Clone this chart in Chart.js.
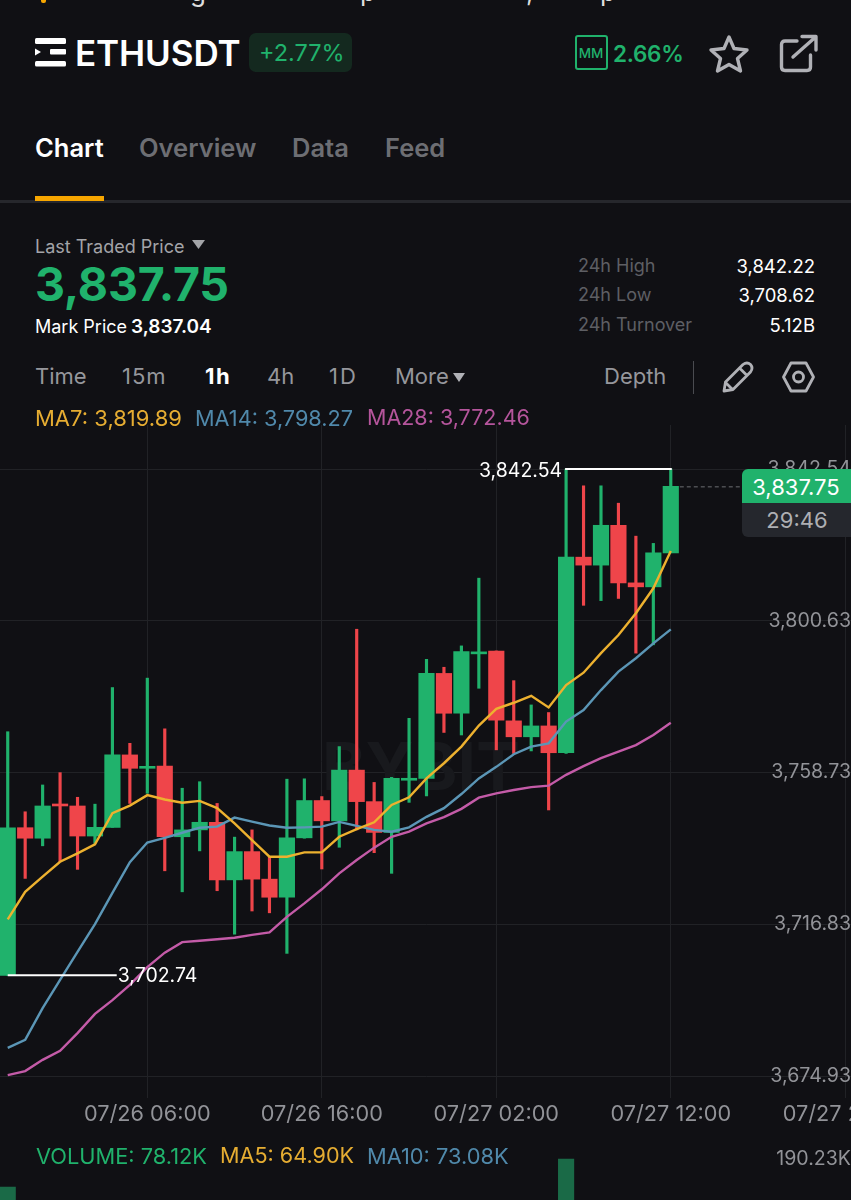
<!DOCTYPE html>
<html><head><meta charset="utf-8">
<script src="https://cdn.jsdelivr.net/npm/chart.js@4/dist/chart.umd.min.js"></script>
<style>
html,body{margin:0;padding:0;background:#101014;overflow:hidden;width:851px;height:1200px}
body{position:relative;font-family:Inter,"Noto Sans",sans-serif;color:#fff}
.t{position:absolute;white-space:nowrap;transform:translateY(-50%);line-height:1.2}
.r{transform:translate(-100%,-50%)}
.c{transform:translate(-50%,-50%)}
svg{position:absolute;overflow:visible}
canvas{position:absolute;display:block}
.bx{position:absolute}
</style></head><body>
<canvas id="price" width="855" height="705" style="left:-1px;top:425px;width:855px;height:705px"></canvas>
<canvas id="vol" width="855" height="50" style="left:-1px;top:1150px;width:855px;height:50px"></canvas>

<!-- cut-off line at the top of the screenshot -->
<div class="bx" style="left:41px;top:0;width:5px;height:3px;background:#f7a600;border-radius:0 0 2px 2px"></div>
<div class="t" style="left:190px;top:-8px;font-size:26px;color:#ddd">g</div>
<div class="t" style="left:360px;top:-8px;font-size:26px;color:#ddd">p</div>
<div class="t" style="left:526px;top:-8px;font-size:26px;color:#ddd">,</div>
<div class="t" style="left:600px;top:-8px;font-size:26px;color:#ddd">p</div>

<!-- header -->
<svg style="left:35px;top:38px" width="32" height="29" viewBox="0 0 32 29">
<rect x="0" y="0" width="31" height="6" rx="1.5" fill="#fff"/>
<path d="M0 10.5 L6 14 L0 17.5Z" fill="#fff"/>
<rect x="15" y="11" width="16" height="5.5" rx="1" fill="#fff"/>
<rect x="0" y="23" width="31" height="5.5" rx="1.5" fill="#fff"/>
</svg>
<div class="t" style="left:75px;top:53px;font-size:35px;font-weight:600;letter-spacing:-.1px">ETHUSDT</div>
<div class="bx" style="left:249px;top:33px;width:103px;height:39px;background:#14291f;border-radius:7px"></div>
<div class="t" style="left:259px;top:53px;font-size:23.5px;color:#20b26c">+2.77%</div>
<div class="bx" style="left:575px;top:35px;width:29px;height:31px;border:2px solid #20b26c;border-radius:3px"></div>
<div class="t c" style="left:591px;top:53px;font-size:13.5px;color:#20b26c;font-weight:500">MM</div>
<div class="t" style="left:613px;top:53px;font-size:22.5px;font-weight:600;color:#20b26c;letter-spacing:-.3px">2.66%</div>
<svg style="left:709px;top:34px" width="40" height="40" viewBox="0 0 40 40"><path d="M20 3 L25 14.5 L38 16 L28.5 24.5 L31.5 37 L20 30.5 L8.5 37 L11.5 24.5 L2 16 L15 14.5Z" fill="none" stroke="#b0b1b6" stroke-width="3.4" stroke-linejoin="round"/></svg>
<svg style="left:780px;top:35px" width="38" height="38" viewBox="0 0 38 38"><path d="M17 6 H5 Q1.5 6 1.5 9.5 V32 Q1.5 35.5 5 35.5 H27 Q30.5 35.5 30.5 32 V20" fill="none" stroke="#b0b1b6" stroke-width="3.4" stroke-linecap="round"/><path d="M13 22 L35 2.5 M22 1.5 H36 V15" fill="none" stroke="#b0b1b6" stroke-width="3.4" stroke-linecap="round" stroke-linejoin="round"/></svg>

<!-- tabs -->
<div class="t" style="left:35px;top:148px;font-size:25.5px;font-weight:600;color:#fff">Chart</div>
<div class="t" style="left:139px;top:148px;font-size:25.5px;font-weight:600;color:#6d6e73">Overview</div>
<div class="t" style="left:292px;top:148px;font-size:25.5px;font-weight:600;color:#6d6e73">Data</div>
<div class="t" style="left:385px;top:148px;font-size:25.5px;font-weight:600;color:#6d6e73">Feed</div>
<div class="bx" style="left:0;top:200px;width:851px;height:3px;background:#26272c"></div>
<div class="bx" style="left:35px;top:196px;width:69px;height:5px;background:#f7a600"></div>

<!-- price block -->
<div class="t" style="left:35px;top:247px;font-size:18px;color:#a3a4a8">Last Traded Price</div>
<svg style="left:192px;top:240px" width="13" height="9"><path d="M0 0H13L6.5 9Z" fill="#a3a4a8"/></svg>
<div class="t" style="left:35px;top:285px;font-size:46.5px;font-weight:700;color:#20b26c;letter-spacing:-.2px">3,837.75</div>
<div class="t" style="left:35px;top:327px;font-size:18px;color:#fff">Mark Price</div>
<div class="t" style="left:131px;top:327px;font-size:19px;font-weight:600;color:#fff">3,837.04</div>
<div class="t" style="left:578px;top:266px;font-size:18px;color:#5e5f64">24h High</div>
<div class="t" style="left:578px;top:295px;font-size:18px;color:#5e5f64">24h Low</div>
<div class="t" style="left:578px;top:325px;font-size:18px;color:#5e5f64">24h Turnover</div>
<div class="t r" style="left:815px;top:266px;font-size:18.5px;color:#fff">3,842.22</div>
<div class="t r" style="left:815px;top:295px;font-size:18.5px;color:#fff">3,708.62</div>
<div class="t r" style="left:815px;top:325px;font-size:18.5px;color:#fff">5.12B</div>

<!-- toolbar -->
<div class="t" style="left:35px;top:376px;font-size:22px;color:#96979c">Time</div>
<div class="t" style="left:122px;top:376px;font-size:22px;color:#96979c;letter-spacing:1px">15m</div>
<div class="t" style="left:205px;top:376px;font-size:22px;font-weight:700;color:#fff;letter-spacing:1.5px">1h</div>
<div class="t" style="left:267px;top:376px;font-size:22px;color:#96979c">4h</div>
<div class="t" style="left:329px;top:376px;font-size:22px;color:#96979c;letter-spacing:2px">1D</div>
<div class="t" style="left:395px;top:376px;font-size:22px;color:#96979c">More</div>
<svg style="left:453px;top:373px" width="12" height="9"><path d="M0 0H12L6 9Z" fill="#b0b1b6"/></svg>
<div class="t" style="left:604px;top:376px;font-size:22px;color:#96979c">Depth</div>
<div class="bx" style="left:693px;top:361px;width:1px;height:33px;background:#4a4b50"></div>
<svg style="left:722px;top:361px" width="32" height="32" viewBox="0 0 32 32"><path d="M2 30 L3.5 21 L21 3.5 Q25 0.5 28.5 3.5 Q31.5 7 28.5 11 L11 28.5Z M17.5 7 L25 14.5 M4 22 L10.5 28.5" fill="none" stroke="#b0b1b6" stroke-width="2.8" stroke-linejoin="round"/></svg>
<svg style="left:782px;top:361px" width="33" height="32" viewBox="0 0 33 32"><path d="M9 2 H24 L31.5 16 L24 30 H9 L1.5 16Z" fill="none" stroke="#b0b1b6" stroke-width="2.8" stroke-linejoin="round"/><circle cx="16.5" cy="16" r="5" fill="none" stroke="#b0b1b6" stroke-width="2.8"/></svg>

<!-- MA legend -->
<div class="t" style="left:35px;top:418px;font-size:22px;color:#e6ad32">MA7: 3,819.89</div>
<div class="t" style="left:195px;top:418px;font-size:21.7px;color:#5089ab">MA14: 3,798.27</div>
<div class="t" style="left:367px;top:418px;font-size:21.5px;color:#b5559c">MA28: 3,772.46</div>

<!-- last price tags -->
<div class="bx" style="left:742px;top:469px;width:110px;height:34px;background:#20b26c;border-radius:6px 0 0 0"></div>
<div class="bx" style="left:742px;top:503px;width:110px;height:34px;background:#25272d;border-radius:0 0 0 6px"></div>
<div class="t c" style="left:796px;top:487px;font-size:22px;color:#fff">3,837.75</div>
<div class="t c" style="left:797px;top:520px;font-size:22px;color:#aeafb3">29:46</div>

<!-- volume legend -->
<div class="t" style="left:36px;top:1156px;font-size:21.8px;color:#20b26c">VOLUME: 78.12K</div>
<div class="t" style="left:220px;top:1156px;font-size:21.6px;color:#e6ad32">MA5: 64.90K</div>
<div class="t" style="left:367px;top:1156px;font-size:21.8px;color:#5089ab">MA10: 73.08K</div>

<script>
const categories = [
 '07/25 22:00','07/25 23:00','07/26 00:00','07/26 01:00','07/26 02:00','07/26 03:00','07/26 04:00','07/26 05:00',
 '07/26 06:00','07/26 07:00','07/26 08:00','07/26 09:00','07/26 10:00','07/26 11:00','07/26 12:00','07/26 13:00',
 '07/26 14:00','07/26 15:00','07/26 16:00','07/26 17:00','07/26 18:00','07/26 19:00','07/26 20:00','07/26 21:00',
 '07/26 22:00','07/26 23:00','07/27 00:00','07/27 01:00','07/27 02:00','07/27 03:00','07/27 04:00','07/27 05:00',
 '07/27 06:00','07/27 07:00','07/27 08:00','07/27 09:00','07/27 10:00','07/27 11:00','07/27 12:00','07/27 13:00',
 '07/27 14:00','07/27 15:00','07/27 16:00','07/27 17:00','07/27 18:00','07/27 19:00','07/27 20:00','07/27 21:00','07/27 22:00'];
const shownTimes = ['07/26 06:00','07/26 16:00','07/27 02:00','07/27 12:00','07/27 22:00'];
const opens = [3702.74,3743.5,3740.6,3750.0,3749.5,3741.2,3743.6,3763.6,3759.9,3760.5,3741.0,3742.9,3745.0,3729.1,3736.9,3729.3,3724.3,3740.7,3751.0,3745.4,3759.4,3750.7,3742.2,3756.6,3757.1,3786.1,3775.1,3791.5,3792.3,3773.0,3768.6,3771.6,3764.2,3818.2,3816.0,3827.0,3811.1,3810.0,3819.4];
const closes = [3743.5,3740.6,3749.5,3749.5,3741.2,3743.6,3763.6,3759.9,3760.3,3741.0,3742.9,3745.0,3729.1,3736.9,3729.3,3724.3,3740.7,3751.0,3745.4,3759.4,3750.7,3742.2,3757.1,3757.0,3786.1,3775.1,3792.1,3791.9,3773.2,3768.6,3771.6,3764.2,3818.2,3816.0,3827.0,3811.1,3810.0,3819.4,3837.75];
const highs = [3770.0,3747.9,3755.3,3758.7,3751.9,3750.0,3782.2,3766.8,3784.8,3770.8,3754.4,3756.2,3750.2,3740.9,3742.9,3735.5,3756.9,3757.0,3752.1,3765.9,3798.3,3756.0,3757.4,3773.7,3790.0,3787.8,3793.7,3812.4,3792.3,3784.1,3777.4,3775.3,3842.54,3837.9,3837.9,3833.1,3824.0,3822.0,3842.54];
const lows = [3702.74,3729.5,3738.5,3734.1,3732.0,3739.2,3743.6,3750.2,3753.0,3731.6,3725.8,3737.1,3726.1,3714.1,3720.5,3720.0,3708.8,3740.6,3732.1,3738.1,3742.9,3736.6,3730.9,3750.5,3752.3,3769.8,3769.1,3782.0,3765.0,3764.0,3764.7,3748.4,3764.0,3804.9,3806.2,3806.8,3791.7,3794.0,3819.4];
const ma7 = [3718.2,3725.8,3730.0,3734.1,3736.4,3738.9,3747.5,3749.6,3752.5,3751.3,3750.4,3750.9,3748.9,3744.7,3740.1,3735.5,3735.5,3736.7,3736.7,3741.0,3743.1,3745.0,3749.8,3751.9,3757.1,3761.3,3765.9,3771.7,3776.3,3778.0,3779.9,3776.7,3782.9,3786.3,3791.7,3796.7,3802.7,3809.6,3819.89];
const ma14 = [3682.7,3684.9,3693.7,3701.5,3709.2,3716.9,3725.5,3734.0,3739.4,3740.7,3742.1,3743.5,3743.8,3746.3,3745.2,3744.1,3743.5,3743.6,3743.8,3745.1,3744.0,3742.9,3742.4,3743.6,3746.5,3748.9,3752.8,3757.1,3760.3,3763.8,3765.9,3766.8,3772.8,3776.0,3781.5,3786.6,3790.3,3794.4,3798.27];
const ma28 = [3675.2,3676.3,3679.4,3681.9,3686.8,3692.1,3695.9,3700.1,3705.0,3709.0,3711.9,3712.3,3712.7,3713.1,3713.9,3714.6,3718.9,3722.6,3726.5,3730.9,3734.6,3738.0,3741.0,3742.4,3744.7,3746.4,3748.7,3751.8,3753.0,3753.9,3754.7,3755.1,3758.1,3760.5,3762.7,3764.5,3766.3,3769.1,3772.46];
const priceTicks = [3842.54,3800.63,3758.73,3716.83,3674.93];
const volumeK = [137,null,null,null,null,null,null,null,null,null,null,null,null,null,null,null,null,null,null,null,null,null,null,null,null,null,null,null,null,null,null,null,190.23,null,null,null,null,null,null];
const volumeTicks = [190.23];
const highMark = {index:32, value:3842.54, text:'3,842.54'};
const lowMark = {index:0, value:3702.74, text:'3,702.74'};
const lastPrice = 3837.75;

const GREEN='#20b26c', RED='#ef454a', GRID='#212226', FONT='Inter, "Noto Sans", sans-serif';
const candleColors = opens.map((o,i)=> closes[i]>=o ? GREEN : RED);
const zip=(a,b)=>a.map((v,i)=>[v,b[i]]);
const noPad = s => { s.paddingLeft=0; s.paddingRight=0; s.paddingTop=0; s.paddingBottom=0; };

const marks = {
  id:'marks',
  beforeDatasetsDraw(c){
    const {ctx}=c;
    ctx.save();
    ctx.font='700 66px '+FONT; ctx.fillStyle='#18191d'; ctx.textAlign='center'; ctx.textBaseline='middle';
    ctx.fillText('BYBIT',422,770-425);
    ctx.restore();
  },
  afterDatasetsDraw(c){
    const {ctx,scales:{x,y}}=c;
    ctx.save();
    ctx.strokeStyle='#fff'; ctx.lineWidth=2; ctx.fillStyle='#fff';
    ctx.font='19.5px '+FONT; ctx.textBaseline='middle';
    const hy=y.getPixelForValue(highMark.value), hx=x.getPixelForValue(highMark.index), ex=x.getPixelForValue(opens.length-1);
    ctx.beginPath(); ctx.moveTo(hx-1,hy); ctx.lineTo(ex+1,hy); ctx.stroke();
    ctx.textAlign='right'; ctx.fillText(highMark.text,hx-4,hy+2);
    const ly=y.getPixelForValue(lowMark.value), lx=x.getPixelForValue(lowMark.index);
    ctx.beginPath(); ctx.moveTo(lx,ly); ctx.lineTo(lx+109,ly); ctx.stroke();
    ctx.textAlign='left'; ctx.fillText(lowMark.text,lx+110,ly+1);
    const py=y.getPixelForValue(lastPrice);
    ctx.strokeStyle='#6d6e73'; ctx.lineWidth=1; ctx.setLineDash([4,3]);
    ctx.beginPath(); ctx.moveTo(ex+9,py+.5); ctx.lineTo(745,py+.5); ctx.stroke();
    ctx.restore();
  }
};

const line=(data,color)=>({type:'line',data,borderColor:color,borderWidth:2.4,pointRadius:0,tension:0,order:0,spanGaps:true});
new Chart(document.getElementById('price'),{
  type:'bar',
  data:{labels:categories,datasets:[
    line(ma7,'#edb12f'),
    line(ma14,'#5b96b6'),
    line(ma28,'#c45ba8'),
    {type:'bar',data:zip(opens,closes),backgroundColor:candleColors,barThickness:15.5,grouped:false,order:1,minBarLength:2},
    {type:'bar',data:zip(lows,highs),backgroundColor:candleColors,barThickness:2.5,grouped:false,order:2}
  ]},
  options:{
    responsive:false,animation:false,devicePixelRatio:1,
    layout:{padding:0},
    plugins:{legend:{display:false},tooltip:{enabled:false}},
    scales:{
      x:{type:'category',offset:true,
        grid:{offset:false,drawTicks:false,color:c=>shownTimes.includes(categories[c.index])?GRID:'rgba(0,0,0,0)'},
        border:{display:false},
        ticks:{autoSkip:false,maxRotation:0,minRotation:0,padding:3,color:'#929398',font:{size:21.7,family:FONT},
          callback(v,i){const l=categories[i];return shownTimes.includes(l)?l:'';}},
        afterFit(s){noPad(s);s.height=32;}
      },
      y:{type:'linear',position:'right',min:3668.87,max:3854.69,
        grid:{drawTicks:false,color:GRID},border:{display:false},
        afterBuildTicks(s){s.ticks=priceTicks.map(value=>({value}));},
        ticks:{mirror:true,padding:-3,color:'#929398',font:{size:19.6,family:FONT},
          callback:v=>v.toLocaleString('en-US',{minimumFractionDigits:2,maximumFractionDigits:2})},
        afterFit(s){noPad(s);s.width=0;}
      }
    }
  },
  plugins:[marks]
});

new Chart(document.getElementById('vol'),{
  type:'bar',
  data:{labels:categories,datasets:[{data:volumeK,backgroundColor:'#1a6a47',barThickness:15.5}]},
  options:{
    responsive:false,animation:false,devicePixelRatio:1,layout:{padding:0},
    plugins:{legend:{display:false},tooltip:{enabled:false}},
    scales:{
      x:{display:false,offset:true},
      y:{position:'right',min:112.3,max:207.3,grid:{display:false},border:{display:false},
        afterBuildTicks(s){s.ticks=volumeTicks.map(value=>({value}));},
        ticks:{mirror:true,padding:-3,color:'#929398',font:{size:19.6,family:FONT},callback:v=>v.toFixed(2)+'K'},
        afterFit(s){noPad(s);s.width=0;}
      }
    }
  }
});
</script>
</body></html>
